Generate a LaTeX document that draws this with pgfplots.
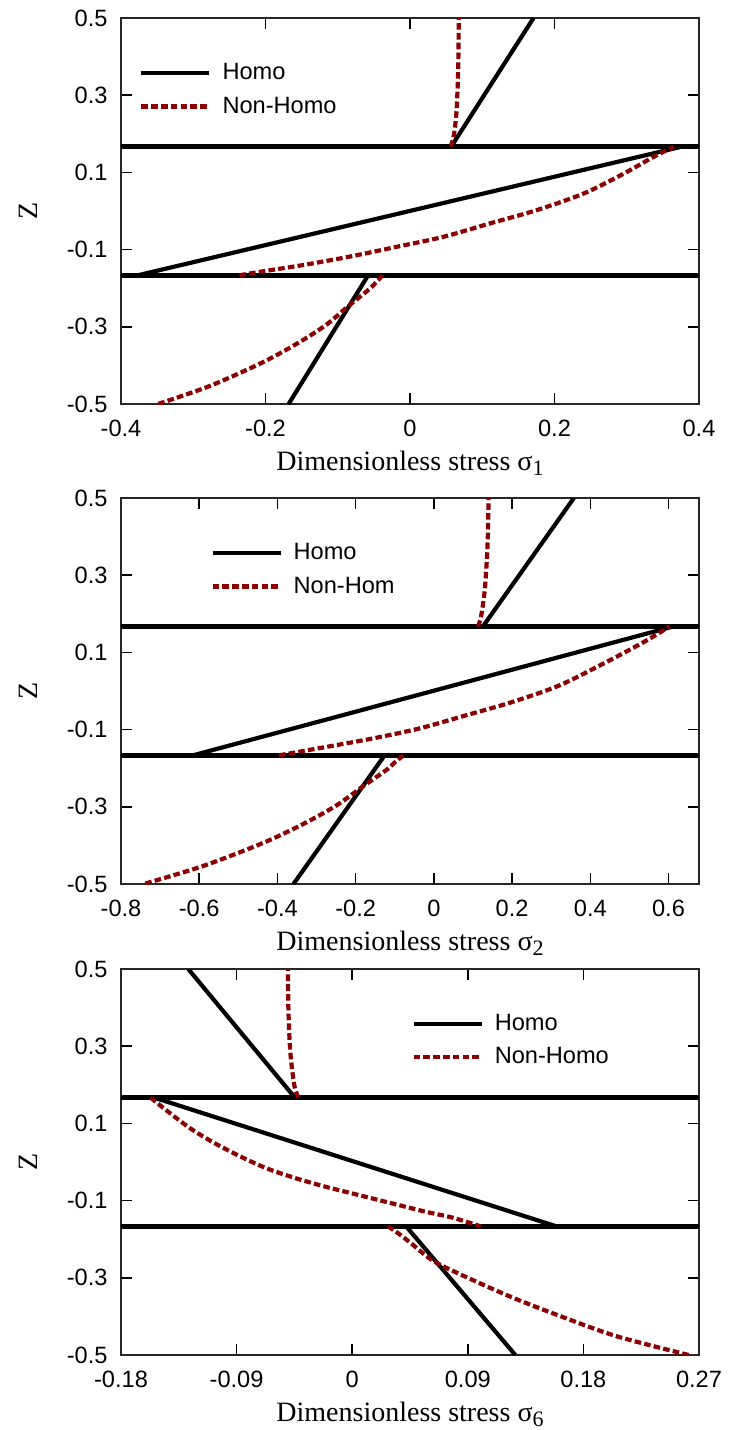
\documentclass[border=0pt]{standalone}
\usepackage{fontspec}
\setmainfont{Liberation Serif}
\setsansfont{Liberation Sans}
\usepackage{pgfplots}
\pgfplotsset{compat=1.18}

\definecolor{darkred}{RGB}{139,0,0}

\newcommand{\stresslabel}[1]{Dimensionless stress σ\raisebox{-0.45ex}{\fontsize{11}{11}\selectfont #1}}

\pgfplotsset{
  stressaxis/.style={
    scale only axis, width=289pt, height=193pt, anchor=south west,
    ymin=-0.5, ymax=0.5,
    ytick={-0.5,-0.3,-0.1,0.1,0.3,0.5},
    yticklabels={-0.5,-0.3,-0.1,0.1,0.3,0.5},
    tick align=inside, major tick length=5.5pt,
    tick style={black, line width=0.75pt},
    axis line style={line width=0.8pt, black!85},
    ticklabel style={font=\sffamily\fontsize{11.8}{13}\selectfont},
    yticklabel style={xshift=-3.2pt},
    xticklabel style={yshift=-4.3pt},
    xlabel style={at={(axis description cs:0.5,0)}, anchor=base, yshift=-33pt,
      font=\fontsize{14}{16}\selectfont},
    ylabel={Z},
    % the label is turned by 90 degrees, so its own y direction points left
    ylabel style={at={(axis description cs:0,0.5)}, anchor=center, yshift=46.5pt,
      font=\fontsize{14}{16}\selectfont},
    legend style={draw=none, fill=none, anchor=west, inner sep=0pt,
      row sep=3.1pt, font=\sffamily\fontsize{11.8}{13}\selectfont,
      cells={anchor=west},
      /tikz/every odd column/.style={column sep=3.5pt}},
    legend image code/.code={\draw[##1] (0pt,0pt) -- (34pt,0pt);},
  },
  homo/.style={black, line width=2.1pt},
  nonhomo/.style={darkred, line width=2.1pt, dash pattern=on 3.3pt off 1.6pt,
    smooth, tension=0.5},
  interface/.style={black, line width=2.4pt, forget plot},
}

\begin{document}
\begin{tikzpicture}
\useasboundingbox (0pt,0pt) rectangle (366pt,-715pt);

% ---------- sigma_1 ----------
\begin{axis}[stressaxis, at={(60.5pt,-202pt)},
  xmin=-0.4, xmax=0.4, xtick={-0.4,-0.2,0,0.2,0.4},
  xticklabels={-0.4,-0.2,0,0.2,0.4},
  xlabel={\stresslabel{1}},
  legend style={at={(axis description cs:0.031,0.814)}}]
\addplot[interface] coordinates {(-0.4,0.16667) (0.4,0.16667)};
\addplot[interface] coordinates {(-0.4,-0.16667) (0.4,-0.16667)};
\addplot[homo] coordinates {(-0.377,-0.16667) (0.376,0.16667)};
\addlegendentry{Homo}
\addplot[nonhomo] coordinates {
  (-0.236,-0.16667) (-0.206,-0.157) (-0.148,-0.140) (-0.083,-0.118)
  (-0.019,-0.093) (0.046,-0.067) (0.111,-0.032) (0.175,0.002)
  (0.240,0.045) (0.292,0.093) (0.337,0.140) (0.365,0.16667)};
\addlegendentry{Non-Homo}
\addplot[homo, forget plot] coordinates {(0.057,0.16667) (0.171,0.5)};
\addplot[homo, forget plot] coordinates {(-0.058,-0.16667) (-0.168,-0.5)};
\addplot[nonhomo, forget plot] coordinates {
  (0.0563,0.16667) (0.060,0.19) (0.0625,0.22) (0.0645,0.26) (0.0655,0.30)
  (0.0665,0.35) (0.0670,0.40) (0.0673,0.45) (0.0675,0.5)};
\addplot[nonhomo, forget plot] coordinates {
  (-0.038,-0.16667) (-0.047,-0.185) (-0.058,-0.205) (-0.087,-0.249)
  (-0.116,-0.295) (-0.155,-0.342) (-0.206,-0.394) (-0.278,-0.454)
  (-0.349,-0.5)};
\end{axis}

% ---------- sigma_2 ----------
\begin{axis}[stressaxis, at={(60.5pt,-442pt)},
  xmin=-0.8, xmax=0.678, xtick={-0.8,-0.6,-0.4,-0.2,0,0.2,0.4,0.6},
  xticklabels={-0.8,-0.6,-0.4,-0.2,0,0.2,0.4,0.6},
  xlabel={\stresslabel{2}},
  legend style={at={(axis description cs:0.154,0.814)}}]
\addplot[interface] coordinates {(-0.8,0.16667) (0.678,0.16667)};
\addplot[interface] coordinates {(-0.8,-0.16667) (0.678,-0.16667)};
\addplot[homo] coordinates {(-0.616,-0.16667) (0.610,0.16667)};
\addlegendentry{Homo}
\addplot[nonhomo] coordinates {
  (-0.396,-0.16667) (-0.276,-0.145) (-0.157,-0.123) (-0.037,-0.097)
  (0.082,-0.063) (0.202,-0.028) (0.322,0.015) (0.441,0.075)
  (0.537,0.127) (0.602,0.16667)};
\addlegendentry{Non-Hom}
\addplot[homo, forget plot] coordinates {(0.125,0.16667) (0.358,0.5)};
\addplot[homo, forget plot] coordinates {(-0.126,-0.16667) (-0.359,-0.5)};
\addplot[nonhomo, forget plot] coordinates {
  (0.113,0.16667) (0.120,0.19) (0.125,0.22) (0.130,0.26) (0.133,0.30)
  (0.136,0.35) (0.138,0.40) (0.139,0.45) (0.140,0.5)};
\addplot[nonhomo, forget plot] coordinates {
  (-0.078,-0.16667) (-0.100,-0.185) (-0.122,-0.205) (-0.184,-0.249)
  (-0.250,-0.297) (-0.335,-0.345) (-0.440,-0.395) (-0.592,-0.454)
  (-0.742,-0.5)};
\end{axis}

% ---------- sigma_6 ----------
\begin{axis}[stressaxis, at={(60.5pt,-677.5pt)},
  xmin=-0.18, xmax=0.27, xtick={-0.18,-0.09,0,0.09,0.18,0.27},
  xticklabels={-0.18,-0.09,0,0.09,0.18,0.27},
  xlabel={\stresslabel{6}},
  legend style={at={(axis description cs:0.502,0.815)}}]
\addplot[interface] coordinates {(-0.18,0.16667) (0.27,0.16667)};
\addplot[interface] coordinates {(-0.18,-0.16667) (0.27,-0.16667)};
\addplot[homo] coordinates {(-0.154,0.16667) (0.159,-0.16667)};
\addlegendentry{Homo}
\addplot[nonhomo] coordinates {
  (-0.157,0.16667) (-0.138,0.1166) (-0.1237,0.082) (-0.1064,0.0475)
  (-0.0862,0.013) (-0.066,-0.0172) (-0.043,-0.043) (-0.020,-0.0647)
  (0.006,-0.0863) (0.032,-0.108) (0.058,-0.1295) (0.078,-0.144)
  (0.100,-0.16667)};
\addlegendentry{Non-Homo}
\addplot[homo, forget plot] coordinates {(-0.0446,0.16667) (-0.1276,0.5)};
\addplot[homo, forget plot] coordinates {(0.042,-0.16667) (0.127,-0.5)};
\addplot[nonhomo, forget plot] coordinates {
  (-0.042,0.16667) (-0.0445,0.19) (-0.046,0.22) (-0.0475,0.26) (-0.0485,0.30)
  (-0.0492,0.35) (-0.0497,0.40) (-0.0499,0.45) (-0.050,0.5)};
\addplot[nonhomo, forget plot] coordinates {
  (0.0277,-0.16667) (0.0360,-0.185) (0.0453,-0.209) (0.0635,-0.257)
  (0.0927,-0.304) (0.1254,-0.352) (0.1618,-0.399) (0.2055,-0.451)
  (0.262,-0.5)};
\end{axis}
\end{tikzpicture}
\end{document}
